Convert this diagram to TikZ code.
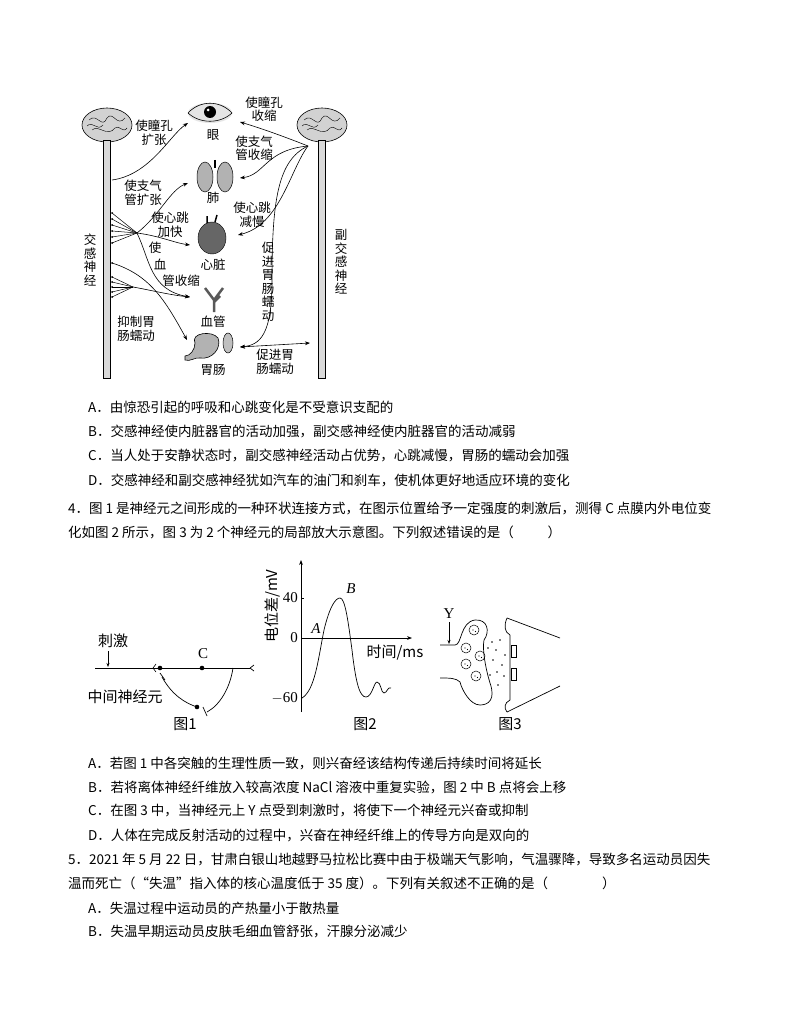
\documentclass[tikz,border=0pt]{standalone}
\usepackage{fontspec}
\setmainfont{Noto Sans CJK SC}
\newfontfamily\serf{Liberation Serif}
\usetikzlibrary{arrows.meta}
\begin{document}
\begin{tikzpicture}[x=1pt,y=-1pt,
  txt/.style={anchor=west,inner sep=0,font=\fontsize{13.5}{16}\selectfont},
  lab/.style={inner sep=0,font=\fontsize{12.5}{13.5}\selectfont,align=center},
  con/.style={-{Stealth[length=5pt]},line width=0.6pt},
  fig/.style={inner sep=0,font=\serf\fontsize{15}{16}\selectfont},
  cjk/.style={inner sep=0,font=\fontsize{15}{16}\selectfont}]
\useasboundingbox[fill=white] (0,0) rectangle (800,1035);
% ---- top diagram ----
\foreach \cx/\nm in {107/L,322/R}{
  \fill[gray!35,draw=black,line width=0.6pt] (\cx,125) ellipse (25 and 17);
  \draw[line width=0.4pt] (\cx-18,120) .. controls (\cx-10,112) and (\cx-5,130) .. (\cx,118) .. controls (\cx+6,110) and (\cx+10,128) .. (\cx+18,118);
  \draw[line width=0.4pt] (\cx-15,130) .. controls (\cx-8,124) and (\cx,138) .. (\cx+8,128) .. controls (\cx+12,124) and (\cx+16,134) .. (\cx+20,128);
  \draw[line width=0.4pt] (\cx-20,126) .. controls (\cx-14,120) and (\cx-10,132) .. (\cx-4,125);
  \fill[gray!30,draw=black,line width=0.5pt] (\cx-3.5,140) rectangle (\cx+3.5,378);
  \coordinate (\nm top) at (\cx,148);
}
\fill[gray!20] (210,113) ellipse (22 and 10);
\draw[line width=0.6pt] (188,113) .. controls (200,100) and (220,100) .. (232,113) .. controls (220,124) and (200,124) .. (188,113);
\fill[black] (210,112) circle (6);\fill[white] (208,110) circle (1.5);
\node[lab] at (213,135) {眼};
\fill[gray!60,draw=black,line width=0.5pt] (205,177) ellipse (8 and 15);
\fill[gray!60,draw=black,line width=0.5pt] (225,177) ellipse (8 and 15);
\draw[line width=1.2pt] (215,160) -- (215,168);
\node[lab] at (213,198) {肺};
\fill[gray!80!black,draw=black] (212,238) ellipse (14 and 16);
\draw[line width=1.5pt] (207,223) -- (207,216) (215,222) -- (217,215);
\node[lab] at (213,265) {心脏};
\draw[line width=2.5pt,gray!70!black] (214,312) -- (214,300) -- (205,288) (214,300) -- (223,288) (214,302) -- (220,296);
\node[lab] at (213,322) {血管};
\fill[gray!60,draw=black,line width=0.6pt] (195,343) .. controls (190,333) and (212,330) .. (218,338) .. controls (222,348) and (212,360) .. (200,358) .. controls (195,357) and (190,362) .. (185,360) -- (185,356) .. controls (190,356) and (195,350) .. (195,343);
\fill[gray!50,draw=black,line width=0.5pt] (228,343) ellipse (5 and 10);
\node[lab] at (213,370) {胃肠};
% labels
\node[lab] at (154,133) {使瞳孔\\扩张};
\node[lab] at (264,109) {使瞳孔\\收缩};
\node[lab] at (254,148) {使支气\\管收缩};
\node[lab] at (143,193) {使支气\\管扩张};
\node[lab] at (170,225) {使心跳\\加快};
\node[lab] at (252,215) {使心跳\\减慢};
\node[lab] at (155,248) {使};
\node[lab] at (160,264) {血};
\node[lab] at (181,281) {管收缩};
\node[lab] at (268,282) {促\\进\\胃\\肠\\蠕\\动};
\node[lab] at (136,329) {抑制胃\\肠蠕动};
\node[lab] at (275,362) {促进胃\\肠蠕动};
\node[lab] at (90,260) {交\\感\\神\\经};
\node[lab] at (341,262) {副\\交\\感\\神\\经};
% connectors
\coordinate (l1) at (112,180); \coordinate (fan1) at (137,233); \coordinate (fan2) at (133,287);
\coordinate (r1) at (308,146);
\coordinate (eyeL) at (188,123); \coordinate (eyeR) at (240,122);
\coordinate (lungL) at (188,183); \coordinate (lungR) at (240,178);
\coordinate (heartL) at (190,245); \coordinate (heartR) at (238,235);
\coordinate (vesL) at (190,297); \coordinate (stoL) at (187,340); \coordinate (intR) at (240,347);
\coordinate (rlow) at (310,343);
\draw[con] (l1) .. controls (150,175) and (170,135) .. (eyeL);
\draw[con] (r1) .. controls (280,135) and (260,128) .. (eyeR);
\draw[con] (r1) .. controls (265,150) and (265,175) .. (lungR);
\draw[con] (r1) .. controls (290,170) and (280,225) .. (heartR);
\draw[con] (r1) .. controls (278,160) and (272,200) .. (272,280) .. controls (272,335) and (260,345) .. (intR);
\draw[{Stealth[length=5pt]}-{Stealth[length=5pt]},line width=0.6pt] (intR) -- (rlow);
\foreach \y in {213,219,225,231,237,243}{\draw[line width=0.5pt] (112,\y) -- (fan1); \fill (112,\y) circle (1);}
\draw[con] (fan1) .. controls (160,215) and (170,190) .. (lungL);
\draw[con] (fan1) .. controls (160,236) and (175,243) .. (heartL);
\draw[con] (fan1) .. controls (150,260) and (150,290) .. (vesL);
\foreach \y in {277,282,287,292,297}{\draw[line width=0.5pt] (112,\y) -- (fan2); \fill (112,\y) circle (1);}
\draw[con] (fan2) .. controls (150,290) and (170,295) .. (vesL);
\coordinate (l2) at (112,263); \fill (l2) circle (1);
\draw[con] (l2) .. controls (150,275) and (165,300) .. (stoL);
% ---- text ----
\node[txt] at (88,407) {A．由惊恐引起的呼吸和心跳变化是不受意识支配的};
\node[txt] at (88,431) {B．交感神经使内脏器官的活动加强，副交感神经使内脏器官的活动减弱};
\node[txt] at (88,455) {C．当人处于安静状态时，副交感神经活动占优势，心跳减慢，胃肠的蠕动会加强};
\node[txt] at (88,480) {D．交感神经和副交感神经犹如汽车的油门和刹车，使机体更好地适应环境的变化};
\node[txt] at (68,508) {4．图 1 是神经元之间形成的一种环状连接方式，在图示位置给予一定强度的刺激后，测得 C 点膜内外电位变};
\node[txt] at (68,532) {化如图 2 所示，图 3 为 2 个神经元的局部放大示意图。下列叙述错误的是（\hspace{2.5em}）};
\node[txt] at (88,763) {A．若图 1 中各突触的生理性质一致，则兴奋经该结构传递后持续时间将延长};
\node[txt] at (88,787) {B．若将离体神经纤维放入较高浓度 NaCl 溶液中重复实验，图 2 中 B 点将会上移};
\node[txt] at (88,811) {C．在图 3 中，当神经元上 Y 点受到刺激时，将使下一个神经元兴奋或抑制};
\node[txt] at (88,835) {D．人体在完成反射活动的过程中，兴奋在神经纤维上的传导方向是双向的};
\node[txt] at (68,859) {5．2021 年 5 月 22 日，甘肃白银山地越野马拉松比赛中由于极端天气影响，气温骤降，导致多名运动员因失};
\node[txt] at (68,883) {温而死亡（“失温”指入体的核心温度低于 35 度）。下列有关叙述不正确的是（\hspace{4em}）};
\node[txt] at (88,908) {A．失温过程中运动员的产热量小于散热量};
\node[txt] at (88,932) {B．失温早期运动员皮肤毛细血管舒张，汗腺分泌减少};
% ---- fig 1 ----
\coordinate (a0) at (95,668); \coordinate (a1) at (250,668);
\draw[line width=0.7pt] (a0) -- (a1);
\draw[line width=0.7pt] (250,668) -- (254,665) (250,668) -- (254,671);
\node[cjk] (stim) at (113,641) {刺激};
\draw[-{Stealth[length=4pt]},line width=0.6pt] (108,651) -- (108,667);
\fill (160,668) circle (2.3); \draw[line width=0.6pt] (156,664) -- (153,668) -- (156,672);
\fill (202,668) circle (2.3); \node[fig] at (203,654) {C};
\draw[line width=0.7pt] (162,677) .. controls (172,695) and (185,703) .. (197,707);
\draw[line width=0.7pt] (160,673) -- (165,680);
\fill (197,707) circle (2.3);
\draw[line width=0.7pt] (233,668) .. controls (230,688) and (220,705) .. (207,712);
\draw[line width=0.7pt] (203,707) -- (207,716);
\node[cjk] at (125,697) {中间神经元};
\node[cjk] at (185,724) {图1};
% ---- fig 2 ----
\draw[-{Stealth[length=5pt]},line width=0.7pt] (301,712) -- (301,560);
\draw[-{Stealth[length=5pt]},line width=0.7pt] (301,638) -- (412,638);
\draw (301,598) -- (304,598);
\node[fig,anchor=east] at (298,598) {40};
\node[fig,anchor=east] at (298,638) {0};
\node[fig,anchor=east] at (298,698) {$-$60};
\node[cjk,rotate=90] at (272,606) {电位差/mV};
\node[cjk] at (395,653) {时间/ms};
\draw[line width=0.7pt] (302,698) .. controls (315,690) and (318,660) .. (324,630) .. controls (330,605) and (336,598) .. (340,598) .. controls (345,598) and (348,620) .. (352,650) .. controls (356,685) and (360,697) .. (366,697) .. controls (372,697) and (374,682) .. (377,682) .. controls (381,682) and (381,693) .. (384,693) .. controls (387,693) and (388,686) .. (391,688);
\node[fig,font=\serf\itshape\fontsize{15}{16}\selectfont] at (316,629) {A};
\node[fig,font=\serf\itshape\fontsize{15}{16}\selectfont] at (351,589) {B};
\node[cjk] at (365,724) {图2};
% ---- fig 3 ----
\node[fig] at (449,614) {Y};
\draw[-{Stealth[length=4pt]},line width=0.6pt] (449,622) -- (449,644);
\draw[line width=0.7pt] (440,645) -- (455,645) .. controls (462,645) and (460,622) .. (475,620) .. controls (488,619) and (490,632) .. (484,640) .. controls (482,650) and (486,670) .. (490,683) .. controls (496,700) and (488,705) .. (480,705) .. controls (470,705) and (462,690) .. (460,682) .. controls (456,678) and (450,678) .. (440,678);
\draw[line width=0.7pt] (507,618) .. controls (504,625) and (504,632) .. (510,635) -- (510,700) .. controls (504,703) and (504,708) .. (507,712);
\draw[line width=0.7pt] (507,618) -- (560,638) (507,712) -- (560,686);
\draw[line width=0.6pt] (511,645) rectangle (516,657) (511,668) rectangle (516,680);
\foreach \px/\py in {474/630,466/648,466/664,476/676,480/656}{\draw[line width=0.5pt] (\px,\py) circle (5); \fill (\px-1,\py) circle (0.7) (\px+1.5,\py+1.5) circle (0.7);}
\foreach \px/\py in {492/642,496/650,500/640,493/660,502/665,497/672,504/676,490/675,498/685,505/655,488/648}{\fill (\px,\py) circle (0.9);}
\node[cjk] at (510,724) {图3};
\end{tikzpicture}
\end{document}
